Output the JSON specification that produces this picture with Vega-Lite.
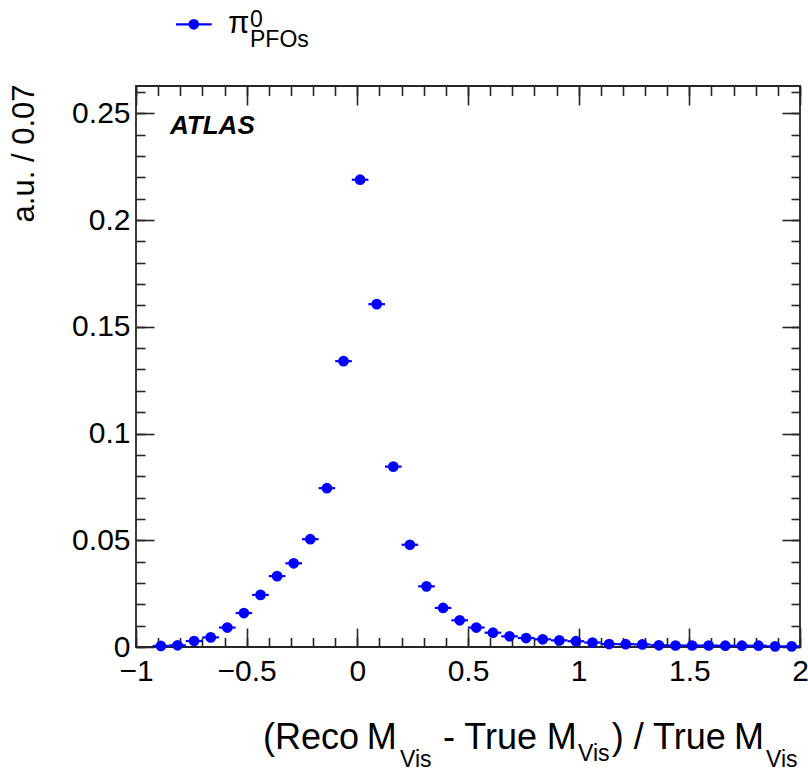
{
  "$schema": "https://vega.github.io/schema/vega-lite/v6.json",
  "width": 664,
  "height": 561,
  "autosize": {"type": "none"},
  "padding": {"left": 136, "top": 86, "right": 8, "bottom": 127},
  "background": "white",
  "config": {
    "font": "Liberation Sans",
    "view": {"stroke": "#262626", "strokeWidth": 1.8},
    "axis": {
      "domain": false,
      "grid": false,
      "tickColor": "#262626",
      "tickWidth": 1.6,
      "labelColor": "black",
      "labelFont": "Liberation Sans",
      "labelFontSize": 30,
      "labelFlush": false,
      "labelOverlap": false,
      "titleFont": "Liberation Sans",
      "titleColor": "black",
      "format": "~g"
    }
  },
  "data": {
    "values": [
      {"center": -0.8875, "lo": -0.925, "hi": -0.85, "y": 0.0005},
      {"center": -0.8125, "lo": -0.85, "hi": -0.775, "y": 0.0008},
      {"center": -0.7375, "lo": -0.775, "hi": -0.7, "y": 0.0028},
      {"center": -0.6625, "lo": -0.7, "hi": -0.625, "y": 0.0045},
      {"center": -0.5875, "lo": -0.625, "hi": -0.55, "y": 0.0091},
      {"center": -0.5125, "lo": -0.55, "hi": -0.475, "y": 0.0159},
      {"center": -0.4375, "lo": -0.475, "hi": -0.4, "y": 0.0244},
      {"center": -0.3625, "lo": -0.4, "hi": -0.325, "y": 0.0332},
      {"center": -0.2875, "lo": -0.325, "hi": -0.25, "y": 0.0392},
      {"center": -0.2125, "lo": -0.25, "hi": -0.175, "y": 0.0505},
      {"center": -0.1375, "lo": -0.175, "hi": -0.1, "y": 0.0744},
      {"center": -0.0625, "lo": -0.1, "hi": -0.025, "y": 0.1339},
      {"center": 0.0125, "lo": -0.025, "hi": 0.05, "y": 0.2189},
      {"center": 0.0875, "lo": 0.05, "hi": 0.125, "y": 0.1606},
      {"center": 0.1625, "lo": 0.125, "hi": 0.2, "y": 0.0845},
      {"center": 0.2375, "lo": 0.2, "hi": 0.275, "y": 0.0479},
      {"center": 0.3125, "lo": 0.275, "hi": 0.35, "y": 0.0284},
      {"center": 0.3875, "lo": 0.35, "hi": 0.425, "y": 0.0183},
      {"center": 0.4625, "lo": 0.425, "hi": 0.5, "y": 0.0125},
      {"center": 0.5375, "lo": 0.5, "hi": 0.575, "y": 0.0091},
      {"center": 0.6125, "lo": 0.575, "hi": 0.65, "y": 0.0067},
      {"center": 0.6875, "lo": 0.65, "hi": 0.725, "y": 0.005},
      {"center": 0.7625, "lo": 0.725, "hi": 0.8, "y": 0.0042},
      {"center": 0.8375, "lo": 0.8, "hi": 0.875, "y": 0.0036},
      {"center": 0.9125, "lo": 0.875, "hi": 0.95, "y": 0.0031},
      {"center": 0.9875, "lo": 0.95, "hi": 1.025, "y": 0.0027},
      {"center": 1.0625, "lo": 1.025, "hi": 1.1, "y": 0.0021},
      {"center": 1.1375, "lo": 1.1, "hi": 1.175, "y": 0.0014},
      {"center": 1.2125, "lo": 1.175, "hi": 1.25, "y": 0.0013},
      {"center": 1.2875, "lo": 1.25, "hi": 1.325, "y": 0.0012},
      {"center": 1.3625, "lo": 1.325, "hi": 1.4, "y": 0.0008},
      {"center": 1.4375, "lo": 1.4, "hi": 1.475, "y": 0.0007},
      {"center": 1.5125, "lo": 1.475, "hi": 1.55, "y": 0.0007},
      {"center": 1.5875, "lo": 1.55, "hi": 1.625, "y": 0.0007},
      {"center": 1.6625, "lo": 1.625, "hi": 1.7, "y": 0.0006},
      {"center": 1.7375, "lo": 1.7, "hi": 1.775, "y": 0.0006},
      {"center": 1.8125, "lo": 1.775, "hi": 1.85, "y": 0.0006},
      {"center": 1.8875, "lo": 1.85, "hi": 1.925, "y": 0.0003},
      {"center": 1.9625, "lo": 1.925, "hi": 2.0, "y": 0.0003}
    ]
  },
  "layer": [
    {
      "mark": {"type": "rule", "color": "#0000ff", "strokeWidth": 2.2},
      "encoding": {
        "x": {"field": "lo", "type": "quantitative",
          "scale": {"domain": [-1, 2], "nice": false, "zero": false},
          "axis": {"orient": "bottom", "values": [-1, -0.5, 0, 0.5, 1, 1.5, 2], "ticks": false, "tickSize": 0, "labelPadding": 9, "title": null}},
        "x2": {"field": "hi"},
        "y": {"field": "y", "type": "quantitative",
          "scale": {"domain": [0, 0.2628], "nice": false, "zero": false},
          "axis": {"orient": "left", "values": [0, 0.05, 0.1, 0.15, 0.2, 0.25], "ticks": false, "tickSize": 0, "labelPadding": 6,
            "title": "a.u. / 0.07", "titleFontSize": 31, "titleFontWeight": "normal", "titleX": -112, "titleY": -2,
            "titleAlign": "right", "titleAngle": -90, "titleBaseline": "middle"}}
      }
    },
    {
      "mark": {"type": "circle", "color": "#0000ff", "opacity": 1, "size": 115},
      "encoding": {
        "x": {"field": "center", "type": "quantitative",
          "scale": {"domain": [-1, 2], "nice": false, "zero": false},
          "axis": {"orient": "bottom", "values": [-1, -0.5, 0, 0.5, 1, 1.5, 2], "labels": false, "tickSize": -19, "title": null}},
        "y": {"field": "y", "type": "quantitative",
          "scale": {"domain": [0, 0.2628], "nice": false, "zero": false},
          "axis": {"orient": "left", "values": [0, 0.05, 0.1, 0.15, 0.2, 0.25], "labels": false, "tickSize": -18, "title": null}}
      }
    },
    {
      "mark": {"type": "circle", "opacity": 0},
      "encoding": {
        "x": {"field": "center", "type": "quantitative",
          "scale": {"domain": [-1, 2], "nice": false, "zero": false},
          "axis": {"orient": "top", "values": [-1, -0.5, 0, 0.5, 1, 1.5, 2], "labels": false, "tickSize": -19, "title": null}},
        "y": {"field": "y", "type": "quantitative",
          "scale": {"domain": [0, 0.2628], "nice": false, "zero": false},
          "axis": {"orient": "right", "values": [0, 0.05, 0.1, 0.15, 0.2, 0.25], "labels": false, "tickSize": -18, "title": null}}
      }
    },
    {
      "mark": {"type": "circle", "opacity": 0},
      "encoding": {
        "x": {"field": "center", "type": "quantitative",
          "scale": {"domain": [-1, 2], "nice": false, "zero": false},
          "axis": {"orient": "bottom", "values": [-1, -0.9, -0.8, -0.7, -0.6, -0.5, -0.4, -0.3, -0.2, -0.1, 0, 0.1, 0.2, 0.3, 0.4, 0.5, 0.6, 0.7, 0.8, 0.9, 1, 1.1, 1.2, 1.3, 1.4, 1.5, 1.6, 1.7, 1.8, 1.9, 2], "labels": false, "tickSize": -9.5, "title": null}},
        "y": {"field": "y", "type": "quantitative",
          "scale": {"domain": [0, 0.2628], "nice": false, "zero": false},
          "axis": {"orient": "left", "values": [0, 0.01, 0.02, 0.03, 0.04, 0.05, 0.06, 0.07, 0.08, 0.09, 0.1, 0.11, 0.12, 0.13, 0.14, 0.15, 0.16, 0.17, 0.18, 0.19, 0.2, 0.21, 0.22, 0.23, 0.24, 0.25, 0.26], "labels": false, "tickSize": -9, "title": null}}
      }
    },
    {
      "mark": {"type": "circle", "opacity": 0},
      "encoding": {
        "x": {"field": "center", "type": "quantitative",
          "scale": {"domain": [-1, 2], "nice": false, "zero": false},
          "axis": {"orient": "top", "values": [-1, -0.9, -0.8, -0.7, -0.6, -0.5, -0.4, -0.3, -0.2, -0.1, 0, 0.1, 0.2, 0.3, 0.4, 0.5, 0.6, 0.7, 0.8, 0.9, 1, 1.1, 1.2, 1.3, 1.4, 1.5, 1.6, 1.7, 1.8, 1.9, 2], "labels": false, "tickSize": -9.5, "title": null}},
        "y": {"field": "y", "type": "quantitative",
          "scale": {"domain": [0, 0.2628], "nice": false, "zero": false},
          "axis": {"orient": "right", "values": [0, 0.01, 0.02, 0.03, 0.04, 0.05, 0.06, 0.07, 0.08, 0.09, 0.1, 0.11, 0.12, 0.13, 0.14, 0.15, 0.16, 0.17, 0.18, 0.19, 0.2, 0.21, 0.22, 0.23, 0.24, 0.25, 0.26], "labels": false, "tickSize": -9, "title": null}}
      }
    },
    {
      "data": {"values": [{}]},
      "mark": {"type": "text", "align": "left", "baseline": "alphabetic", "font": "Liberation Sans", "fontSize": 26, "fontWeight": "bold", "fontStyle": "italic", "color": "black"},
      "encoding": {
        "x": {"datum": -0.8464, "type": "quantitative", "axis": null},
        "y": {"datum": 0.2403, "type": "quantitative", "axis": null},
        "text": {"value": "ATLAS"}
      }
    },
    {
      "data": {"values": [{}]},
      "mark": {"type": "rule", "color": "#0000ff", "strokeWidth": 2.2},
      "encoding": {
        "x": {"datum": -0.8193, "type": "quantitative", "axis": null},
        "x2": {"datum": -0.658},
        "y": {"datum": 0.2917, "type": "quantitative", "axis": null}
      }
    },
    {
      "data": {"values": [{}]},
      "mark": {"type": "circle", "color": "#0000ff", "opacity": 1, "size": 115},
      "encoding": {
        "x": {"datum": -0.7389, "type": "quantitative", "axis": null},
        "y": {"datum": 0.2917, "type": "quantitative", "axis": null}
      }
    },
    {
      "data": {"values": [{}]},
      "mark": {"type": "text", "align": "left", "baseline": "alphabetic", "font": "Liberation Sans", "fontSize": 31, "color": "black"},
      "encoding": {
        "x": {"datum": -0.5843, "type": "quantitative", "axis": null},
        "y": {"datum": 0.2876, "type": "quantitative", "axis": null},
        "text": {"value": "π"}
      }
    },
    {
      "data": {"values": [{}]},
      "mark": {"type": "text", "align": "left", "baseline": "alphabetic", "font": "Liberation Sans", "fontSize": 23, "color": "black"},
      "encoding": {
        "x": {"datum": -0.4849, "type": "quantitative", "axis": null},
        "y": {"datum": 0.2906, "type": "quantitative", "axis": null},
        "text": {"value": "0"}
      }
    },
    {
      "data": {"values": [{}]},
      "mark": {"type": "text", "align": "left", "baseline": "alphabetic", "font": "Liberation Sans", "fontSize": 23, "color": "black"},
      "encoding": {
        "x": {"datum": -0.4849, "type": "quantitative", "axis": null},
        "y": {"datum": 0.2812, "type": "quantitative", "axis": null},
        "text": {"value": "PFOs"}
      }
    },
    {
      "data": {"values": [{}]},
      "mark": {"type": "text", "align": "left", "baseline": "alphabetic", "font": "Liberation Sans", "fontSize": 36, "color": "black"},
      "encoding": {
        "x": {"datum": -0.4262, "type": "quantitative", "axis": null},
        "y": {"datum": -0.0478, "type": "quantitative", "axis": null},
        "text": {"value": "(Reco"}
      }
    },
    {
      "data": {"values": [{}]},
      "mark": {"type": "text", "align": "left", "baseline": "alphabetic", "font": "Liberation Sans", "fontSize": 36, "color": "black"},
      "encoding": {
        "x": {"datum": 0.0423, "type": "quantitative", "axis": null},
        "y": {"datum": -0.0478, "type": "quantitative", "axis": null},
        "text": {"value": "M"}
      }
    },
    {
      "data": {"values": [{}]},
      "mark": {"type": "text", "align": "left", "baseline": "alphabetic", "font": "Liberation Sans", "fontSize": 23, "color": "black"},
      "encoding": {
        "x": {"datum": 0.1928, "type": "quantitative", "axis": null},
        "y": {"datum": -0.0561, "type": "quantitative", "axis": null},
        "text": {"value": "Vis"}
      }
    },
    {
      "data": {"values": [{}]},
      "mark": {"type": "text", "align": "left", "baseline": "alphabetic", "font": "Liberation Sans", "fontSize": 36, "color": "black"},
      "encoding": {
        "x": {"datum": 0.3871, "type": "quantitative", "axis": null},
        "y": {"datum": -0.0478, "type": "quantitative", "axis": null},
        "text": {"value": "- True"}
      }
    },
    {
      "data": {"values": [{}]},
      "mark": {"type": "text", "align": "left", "baseline": "alphabetic", "font": "Liberation Sans", "fontSize": 36, "color": "black"},
      "encoding": {
        "x": {"datum": 0.8556, "type": "quantitative", "axis": null},
        "y": {"datum": -0.0478, "type": "quantitative", "axis": null},
        "text": {"value": "M"}
      }
    },
    {
      "data": {"values": [{}]},
      "mark": {"type": "text", "align": "left", "baseline": "alphabetic", "font": "Liberation Sans", "fontSize": 23, "color": "black"},
      "encoding": {
        "x": {"datum": 0.997, "type": "quantitative", "axis": null},
        "y": {"datum": -0.0535, "type": "quantitative", "axis": null},
        "text": {"value": "Vis"}
      }
    },
    {
      "data": {"values": [{}]},
      "mark": {"type": "text", "align": "left", "baseline": "alphabetic", "font": "Liberation Sans", "fontSize": 36, "color": "black"},
      "encoding": {
        "x": {"datum": 1.1493, "type": "quantitative", "axis": null},
        "y": {"datum": -0.0478, "type": "quantitative", "axis": null},
        "text": {"value": ") / True"}
      }
    },
    {
      "data": {"values": [{}]},
      "mark": {"type": "text", "align": "left", "baseline": "alphabetic", "font": "Liberation Sans", "fontSize": 36, "color": "black"},
      "encoding": {
        "x": {"datum": 1.7018, "type": "quantitative", "axis": null},
        "y": {"datum": -0.0478, "type": "quantitative", "axis": null},
        "text": {"value": "M"}
      }
    },
    {
      "data": {"values": [{}]},
      "mark": {"type": "text", "align": "left", "baseline": "alphabetic", "font": "Liberation Sans", "fontSize": 23, "color": "black"},
      "encoding": {
        "x": {"datum": 1.8464, "type": "quantitative", "axis": null},
        "y": {"datum": -0.0562, "type": "quantitative", "axis": null},
        "text": {"value": "Vis"}
      }
    }
  ],
  "resolve": {"axis": {"x": "independent", "y": "independent"}}
}
